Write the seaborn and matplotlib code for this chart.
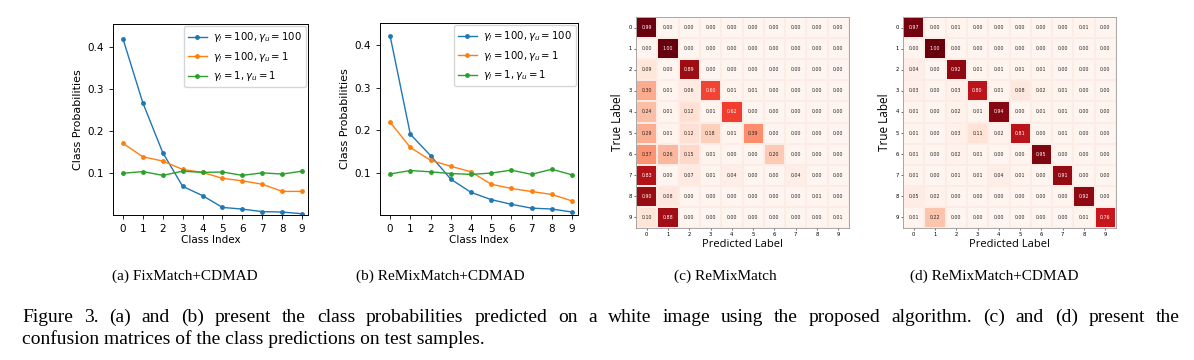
import numpy as np
import pandas as pd
import matplotlib
matplotlib.use('Agg')
import matplotlib.pyplot as plt
import seaborn as sns

# class probabilities on a white image, classes 0..9
class_index = list(range(10))
settings = [r'$\gamma_l = 100, \gamma_u = 100$',
            r'$\gamma_l = 100, \gamma_u = 1$',
            r'$\gamma_l = 1, \gamma_u = 1$']

fix_100_100 = [0.419, 0.267, 0.149, 0.069, 0.047, 0.019, 0.015, 0.009, 0.008, 0.004]
fix_100_1 = [0.171, 0.139, 0.129, 0.109, 0.102, 0.088, 0.082, 0.074, 0.057, 0.057]
fix_1_1 = [0.100, 0.104, 0.095, 0.105, 0.102, 0.103, 0.095, 0.101, 0.098, 0.105]

remix_100_100 = [0.421, 0.191, 0.141, 0.086, 0.055, 0.038, 0.027, 0.018, 0.016, 0.009]
remix_100_1 = [0.219, 0.160, 0.130, 0.116, 0.103, 0.074, 0.064, 0.057, 0.050, 0.035]
remix_1_1 = [0.098, 0.106, 0.103, 0.099, 0.097, 0.100, 0.107, 0.097, 0.109, 0.096]

# confusion matrices (rows: true label, cols: predicted label)
cm_remixmatch = [
    [0.99, 0.00, 0.00, 0.00, 0.00, 0.00, 0.00, 0.00, 0.00, 0.00],
    [0.00, 1.00, 0.00, 0.00, 0.00, 0.00, 0.00, 0.00, 0.00, 0.00],
    [0.09, 0.00, 0.89, 0.00, 0.00, 0.00, 0.00, 0.00, 0.00, 0.00],
    [0.30, 0.01, 0.06, 0.60, 0.01, 0.01, 0.00, 0.00, 0.00, 0.00],
    [0.24, 0.01, 0.12, 0.01, 0.62, 0.00, 0.00, 0.00, 0.00, 0.00],
    [0.29, 0.01, 0.12, 0.18, 0.01, 0.39, 0.00, 0.00, 0.00, 0.00],
    [0.37, 0.26, 0.15, 0.01, 0.00, 0.00, 0.20, 0.00, 0.00, 0.00],
    [0.83, 0.00, 0.07, 0.01, 0.04, 0.00, 0.00, 0.04, 0.00, 0.00],
    [0.90, 0.08, 0.00, 0.00, 0.00, 0.00, 0.00, 0.00, 0.01, 0.00],
    [0.10, 0.88, 0.00, 0.00, 0.00, 0.00, 0.00, 0.00, 0.00, 0.01],
]
cm_remix_cdmad = [
    [0.97, 0.00, 0.01, 0.00, 0.00, 0.00, 0.00, 0.00, 0.01, 0.00],
    [0.00, 1.00, 0.00, 0.00, 0.00, 0.00, 0.00, 0.00, 0.00, 0.00],
    [0.04, 0.00, 0.92, 0.01, 0.01, 0.01, 0.01, 0.00, 0.00, 0.00],
    [0.03, 0.00, 0.03, 0.80, 0.01, 0.08, 0.02, 0.01, 0.00, 0.00],
    [0.01, 0.00, 0.02, 0.01, 0.94, 0.00, 0.01, 0.01, 0.00, 0.00],
    [0.01, 0.00, 0.03, 0.11, 0.02, 0.81, 0.00, 0.01, 0.00, 0.00],
    [0.01, 0.00, 0.02, 0.01, 0.00, 0.00, 0.95, 0.00, 0.00, 0.00],
    [0.01, 0.00, 0.01, 0.01, 0.04, 0.01, 0.00, 0.91, 0.00, 0.00],
    [0.05, 0.02, 0.00, 0.00, 0.00, 0.00, 0.00, 0.00, 0.92, 0.00],
    [0.01, 0.22, 0.00, 0.00, 0.00, 0.00, 0.00, 0.00, 0.01, 0.76],
]

subcaptions = ['(a) FixMatch+CDMAD', '(b) ReMixMatch+CDMAD',
               '(c) ReMixMatch', '(d) ReMixMatch+CDMAD']
caption_1 = ('Figure 3. (a) and (b) present the class probabilities predicted on a white image '
             'using the proposed algorithm. (c) and (d) present the')
caption_2 = 'confusion matrices of the class predictions on test samples.'


def long_frame(series):
    rows = []
    for name, vals in zip(settings, series):
        for i, v in zip(class_index, vals):
            rows.append({'Class Index': i, 'prob': v, 'setting': name})
    return pd.DataFrame(rows)


def prob_panel(ax, series, ylim):
    df = long_frame(series)
    sns.lineplot(data=df, x='Class Index', y='prob', hue='setting', hue_order=settings,
                 palette=['#1f77b4', '#ff7f0e', '#2ca02c'], marker='o', markersize=3.5,
                 markeredgewidth=0, linewidth=1, ax=ax)
    h, l = ax.get_legend_handles_labels()
    ax.legend(h, l, loc='upper right', fontsize=7.3, handlelength=1.9,
              borderaxespad=0.2, labelspacing=0.55, handletextpad=0.6)
    ax.set_xlim(-0.5, 9.3)
    ax.set_ylim(*ylim)
    ax.set_xticks(class_index)
    ax.set_yticks([0.1, 0.2, 0.3, 0.4])
    ax.tick_params(labelsize=7.5, length=3, width=0.6)
    ax.set_xlabel('Class Index', fontsize=7.5, labelpad=1)
    ax.set_ylabel('Class Probabilities', fontsize=8, labelpad=3)
    for s in ax.spines.values():
        s.set_linewidth(0.7)


def cm_panel(ax, mat):
    sns.heatmap(np.array(mat), ax=ax, cmap='Reds', vmin=0, vmax=1, annot=True, fmt='.2f',
                annot_kws={'size': 3.4}, cbar=False, linewidths=0.2, linecolor='#fdece5')
    ax.set_xticklabels(class_index, rotation=0)
    ax.set_yticklabels(class_index, rotation=0)
    ax.tick_params(labelsize=3.8, length=1.5, width=0.4, pad=1.5)
    ax.set_xlabel('Predicted Label', fontsize=8, family='Open Sans', labelpad=1)
    ax.set_ylabel('True Label', fontsize=8.5, family='Open Sans', labelpad=3)
    for s in ax.spines.values():
        s.set_visible(True)
        s.set_color('#9a9a9a')
        s.set_linewidth(0.6)


fig = plt.figure(figsize=(11.94, 3.6), dpi=100)
W, H = 1194, 360


def px_axes(left, top, right, bottom):
    return fig.add_axes([left / W, 1 - bottom / H, (right - left) / W, (bottom - top) / H])


ax_a = px_axes(113, 24, 308, 215)
ax_b = px_axes(380, 23, 578, 215)
ax_c = px_axes(636, 17, 849, 228)
ax_d = px_axes(903, 17, 1116, 228)

prob_panel(ax_a, [fix_100_100, fix_100_1, fix_1_1], (0.001, 0.454))
prob_panel(ax_b, [remix_100_100, remix_100_1, remix_1_1], (0.002, 0.451))
cm_panel(ax_c, cm_remixmatch)
cm_panel(ax_d, cm_remix_cdmad)

serif = 'Liberation Serif'
for x, t in zip([185, 440, 725, 994], subcaptions):
    fig.text(x / W, 1 - 280 / H, t, ha='center', va='baseline', fontsize=11, family=serif)

# first caption line is justified between x=22 and x=1180
words = caption_1.split(' ')
renderer = fig.canvas.get_renderer()
objs = [fig.text(0, 1 - 322 / H, w, ha='left', va='baseline', fontsize=14, family=serif)
        for w in words]
widths = [o.get_window_extent(renderer).width for o in objs]
gap = (1180 - 22 - sum(widths)) / (len(words) - 1)
x = 22
for o, w in zip(objs, widths):
    o.set_x(x / W)
    x += w + gap
fig.text(22 / W, 1 - 344 / H, caption_2, ha='left', va='baseline', fontsize=14, family=serif)

fig.savefig('out.png', dpi=100)
